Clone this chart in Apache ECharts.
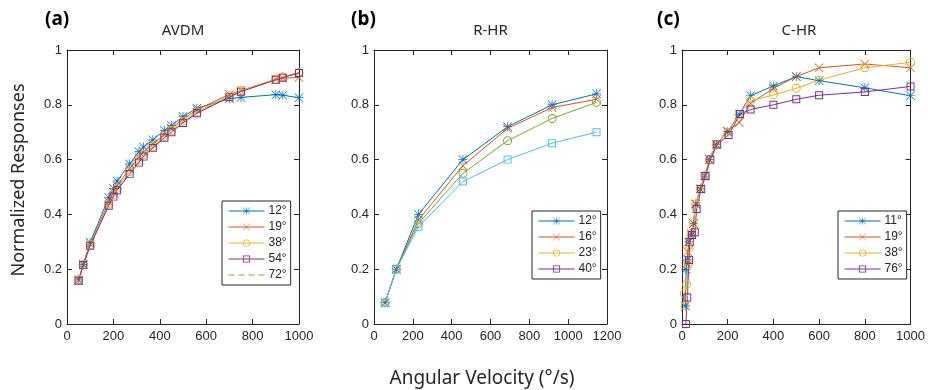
<!DOCTYPE html>
<html><head><meta charset="utf-8">
<script src="https://cdn.jsdelivr.net/npm/echarts@6/dist/echarts.min.js"></script>
<style>html,body{margin:0;padding:0;background:#fff}#c{width:928px;height:390px}</style>
</head><body><div id="c"></div>
<script>
// ---- Data ----
const aX = [50,70,100,180,200,216,270,310,330,370,420,450,500,560,700,750,900,930,1000];
const a12 = [0.161,0.218,0.298,0.462,0.495,0.522,0.584,0.629,0.646,0.672,0.706,0.724,0.757,0.787,0.822,0.827,0.837,0.835,0.826];
const a19 = [0.160,0.216,0.292,0.445,0.480,0.505,0.567,0.610,0.628,0.656,0.692,0.714,0.748,0.782,0.838,0.852,0.893,0.897,0.900];
const a38 = [0.162,0.217,0.290,0.438,0.472,0.495,0.556,0.598,0.618,0.648,0.686,0.706,0.740,0.774,0.833,0.852,0.894,0.902,0.918];
const a54 = [0.158,0.215,0.286,0.432,0.465,0.488,0.547,0.589,0.611,0.642,0.680,0.700,0.734,0.769,0.828,0.848,0.891,0.899,0.916];
const a72 = [0.159,0.216,0.288,0.435,0.468,0.491,0.551,0.593,0.614,0.645,0.683,0.703,0.737,0.771,0.830,0.850,0.892,0.900,0.917];

const bX = [57,115,229,458,688,917,1146];
const b12 = [0.078,0.2,0.40,0.60,0.72,0.80,0.84];
const b16 = [0.078,0.2,0.38,0.578,0.714,0.79,0.82];
const b23 = [0.078,0.2,0.367,0.55,0.669,0.75,0.809];
const b40 = [0.078,0.2,0.355,0.52,0.60,0.66,0.70];

const c11X = [15,18,25,30,40,50,60,80,100,120,150,200,250,300,400,500,600,800,1000];
const c11 = [0.066,0.2,0.234,0.300,0.325,0.367,0.438,0.493,0.54,0.60,0.655,0.702,0.765,0.833,0.869,0.903,0.888,0.862,0.833];
const c19X = [20,25,30,40,50,60,80,100,120,150,200,250,300,400,500,600,800,1000];
const c19 = [0.22,0.264,0.30,0.33,0.367,0.438,0.493,0.54,0.60,0.655,0.704,0.735,0.805,0.86,0.903,0.935,0.949,0.935];
const c38X = [14,10,21,28,31,40,50,60,80,100,120,150,200,250,300,400,500,600,800,1000];
const c38 = [0.066,0.112,0.145,0.218,0.276,0.33,0.367,0.438,0.493,0.54,0.60,0.655,0.70,0.765,0.814,0.836,0.86,0.89,0.935,0.955];
const c76X = [17,23,31,34,44,56,64,84,103,124,154,204,254,300,400,500,600,800,1000];
const c76 = [0,0.097,0.234,0.298,0.325,0.335,0.42,0.493,0.54,0.60,0.655,0.69,0.766,0.783,0.80,0.82,0.835,0.847,0.867];

const panelTitles = ['AVDM','R-HR','C-HR'];
const panelTags = ['(a)','(b)','(c)'];
const xMax = [1000,1200,1000];
const yLabel = 'Normalized Responses';
const xLabel = 'Angular Velocity (°/s)';

// ---- Styles ----
const C = {blue:'#0072BD', red:'#D95319', yellow:'#EDB120', purple:'#7E2F8E', green:'#77AC30', cyan:'#4DBEEE'};
const STAR = 'path://M9.2 0L10.8 0L10.8 20L9.2 20Z M0 9.2L20 9.2L20 10.8L0 10.8Z M1.1 0L20 18.9L18.9 20L0 1.1Z M18.9 0L20 1.1L1.1 20L0 18.9Z';
const XM = 'path://M1.1 0L20 18.9L18.9 20L0 1.1Z M18.9 0L20 1.1L1.1 20L0 18.9Z';
const SQ = 'path://M0 0L20 0L20 20L0 20Z M2.4 2.4L2.4 17.6L17.6 17.6L17.6 2.4Z';
const CI = 'path://M10 0A10 10 0 1 1 10 20A10 10 0 1 1 10 0Z M10 2.2A7.8 7.8 0 1 0 10 17.8A7.8 7.8 0 1 0 10 2.2Z';
const AX = '#262626';
const tickFont = {fontFamily:'Liberation Sans, Arial, sans-serif', fontSize:13, color:AX, formatter:(v)=>String(v)};

const grids = [
  {left:67, top:50, width:232, height:274},
  {left:374, top:50, width:233, height:274},
  {left:682, top:50, width:234, height:274}
];

const xAxes = [], yAxes = [];
grids.forEach((g,i)=>{
  xAxes.push({type:'value', gridIndex:i, min:0, max:xMax[i], interval:200, position:'bottom',
    axisLine:{show:true, onZero:false, lineStyle:{color:AX}}, axisTick:{inside:true, length:5, lineStyle:{color:AX}},
    axisLabel:Object.assign({margin:6}, tickFont), splitLine:{show:false}});
  xAxes.push({type:'value', gridIndex:i, min:0, max:xMax[i], interval:200, position:'top',
    axisLine:{show:true, onZero:false, lineStyle:{color:AX}}, axisTick:{inside:true, length:5, lineStyle:{color:AX}},
    axisLabel:{show:false}, splitLine:{show:false}});
  yAxes.push({type:'value', gridIndex:i, min:0, max:1, interval:0.2, position:'left',
    axisLine:{show:true, onZero:false, lineStyle:{color:AX}}, axisTick:{inside:true, length:5, lineStyle:{color:AX}},
    axisLabel:Object.assign({margin:5}, tickFont), splitLine:{show:false}});
  yAxes.push({type:'value', gridIndex:i, min:0, max:1, interval:0.2, position:'right',
    axisLine:{show:true, onZero:false, lineStyle:{color:AX}}, axisTick:{inside:true, length:5, lineStyle:{color:AX}},
    axisLabel:{show:false}, splitLine:{show:false}});
});

function pairs(xs, ys){ return xs.map((x,k)=>[x, ys[k]]); }
function ser(name, panel, xs, ys, color, symbol, opts){
  const s = {name, type:'line', xAxisIndex:panel*2, yAxisIndex:panel*2, data:pairs(xs,ys),
    symbol, symbolSize: symbol===SQ ? 8 : 9, showAllSymbol:true,
    lineStyle:{color, width:1}, itemStyle:{color, borderWidth:0},
    animation:false, z:3};
  return Object.assign(s, opts||{});
}
const series = [
  ser('72°',0,aX,a72,C.green,'none',{lineStyle:{color:C.green,width:1,type:[6,4]}, z:2}),
  ser('12°',0,aX,a12,C.blue,STAR),
  ser('19°',0,aX,a19,C.red,XM),
  ser('38°',0,aX,a38,C.yellow,CI),
  ser('54°',0,aX,a54,C.purple,SQ),
  ser('12°',1,bX,b12,C.blue,STAR),
  ser('16°',1,bX,b16,C.red,XM),
  ser('23°',1,bX,b23,C.green,CI),
  ser('40°',1,bX,b40,C.cyan,SQ),
  ser('11°',2,c11X,c11,C.blue,STAR),
  ser('19°',2,c19X,c19,C.red,XM),
  ser('38°',2,c38X,c38,C.yellow,CI),
  ser('76°',2,c76X,c76,C.purple,SQ)
];

function li(name,color,dashed){
  const o = {name, itemStyle:{color, borderWidth:0},
    lineStyle:{color, width:1, type: dashed?[6,4]:'solid'}};
  if (dashed) o.itemStyle.opacity = 0;
  return o;
}
const legendBase = {orient:'vertical', backgroundColor:'#fff', borderColor:AX, borderWidth:1,
  padding:[4,4,4,6], itemWidth:36, itemHeight:9, itemGap:4, selectedMode:false,
  textStyle:{fontFamily:'Liberation Sans, Arial, sans-serif', fontSize:12, lineHeight:11, color:AX, padding:[0,0,0,-1]}};
const legends = [
  Object.assign({left:222, top:201, data:[li('12°',C.blue), li('19°',C.red), li('38°',C.yellow), li('54°',C.purple), li('72°',C.green,true)]}, legendBase),
  Object.assign({left:532, top:211, data:[li('12°',C.blue), li('16°',C.red), li('23°',C.yellow), li('40°',C.purple)]}, legendBase),
  Object.assign({left:838, top:211, data:[li('11°',C.blue), li('19°',C.red), li('38°',C.yellow), li('76°',C.purple)]}, legendBase)
];

const labelFont = 'Noto Sans, DejaVu Sans, sans-serif';
const graphics = [];
grids.forEach((g,i)=>{
  graphics.push({type:'text', x:g.left+g.width/2, y:31, style:{text:panelTitles[i], font:'15px '+labelFont, fill:'#262626', textAlign:'center', textVerticalAlign:'middle'}});
});
const tagX = [45, 351, 657];
tagX.forEach((x,i)=>{
  graphics.push({type:'text', x:x, y:20, style:{text:panelTags[i], font:'bold 19px '+labelFont, fill:'#000', textAlign:'left', textVerticalAlign:'middle'}});
});
graphics.push({type:'text', x:19, y:180, rotation:Math.PI/2, style:{text:yLabel, font:'18px '+labelFont, fill:'#262626', textAlign:'center', textVerticalAlign:'middle'}});
graphics.push({type:'text', x:482, y:379, style:{text:xLabel, font:'19px '+labelFont, fill:'#262626', textAlign:'center', textVerticalAlign:'middle'}});

const chart = echarts.init(document.getElementById('c'));
chart.setOption({
  animation:false,
  grid:grids, xAxis:xAxes, yAxis:yAxes, series, legend:legends, graphic:graphics
});
</script></body></html>
